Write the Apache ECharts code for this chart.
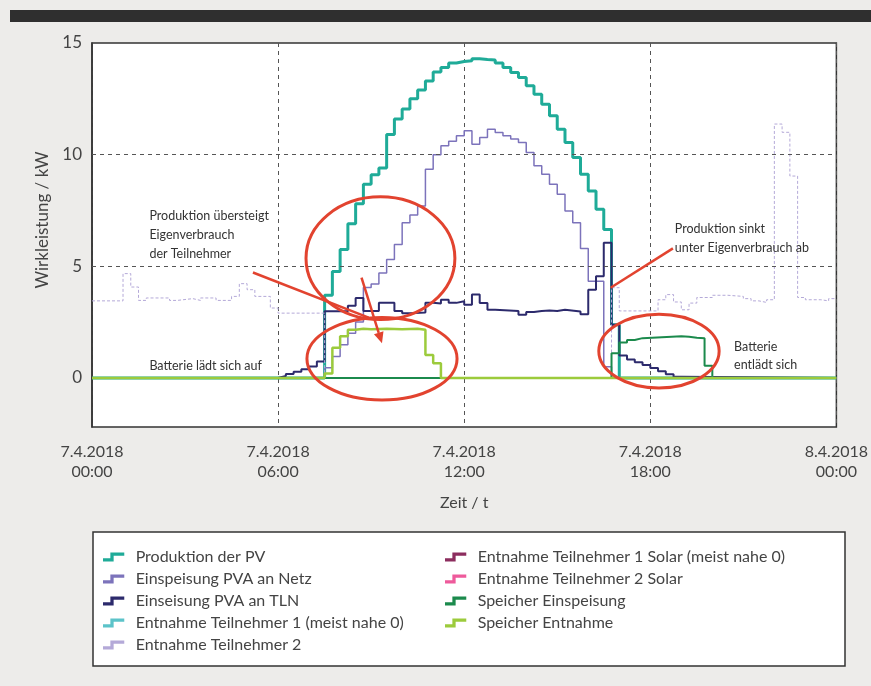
<!DOCTYPE html>
<html>
<head>
<meta charset="utf-8">
<script src="https://cdn.jsdelivr.net/npm/echarts@6/dist/echarts.min.js"></script>
<style>
html,body{margin:0;padding:0;background:#edecea;}
#c{width:871px;height:686px;}
</style>
</head>
<body>
<div id="c"></div>
<script>
// ---------- DATA ----------
const xTickLabels = ['7.4.2018\n00:00','7.4.2018\n06:00','7.4.2018\n12:00','7.4.2018\n18:00','8.4.2018\n00:00'];
const yTickValues = [0, 5, 10, 15];
const yGridValues = [5, 10];
const seriesNames = [
  'Produktion der PV',
  'Einspeisung PVA an Netz',
  'Einseisung PVA an TLN',
  'Entnahme Teilnehmer 1 (meist nahe 0)',
  'Entnahme Teilnehmer 2',
  'Entnahme Teilnehmer 1 Solar (meist nahe 0)',
  'Entnahme Teilnehmer 2 Solar',
  'Speicher Einspeisung',
  'Speicher Entnahme'
];
// [hour, kW] step change points (value holds until next point)
const produktionPV = [[0,0],[7.5,3.7],[7.75,4.77],[8,5.75],[8.25,6.9],[8.5,7.8],[8.75,8.67],[9,9.1],[9.25,9.4],[9.5,10.9],[9.75,11.6],[10,12.04],[10.25,12.5],[10.5,12.9],[10.75,13.3],[11,13.7],[11.25,13.9],[11.5,14.1],[11.75,14.17],[12,14.2],[12.25,14.29],[12.5,14.26],[12.75,14.24],[13,14.1],[13.25,13.9],[13.5,13.68],[13.75,13.46],[14,13.09],[14.25,12.71],[14.5,12.26],[14.75,11.74],[15,11.14],[15.25,10.54],[15.5,9.87],[15.75,9.12],[16,8.37],[16.25,7.55],[16.5,6.65],[16.75,2.38],[17,0],[24,0]];
const einspeisungNetz = [[0,0],[7.5,0.45],[7.75,0.96],[8,1.48],[8.25,2.0],[8.5,2.5],[8.75,4.05],[9,4.2],[9.25,4.7],[9.5,5.3],[9.75,5.97],[10,6.95],[10.25,7.3],[10.5,7.7],[10.75,9.34],[11,10.0],[11.25,10.4],[11.5,10.6],[11.75,10.84],[12,11.07],[12.25,10.47],[12.5,10.77],[12.75,11.14],[13,10.99],[13.25,10.84],[13.5,10.7],[13.75,10.54],[14,10.1],[14.25,9.5],[14.5,9.12],[14.75,8.67],[15,8.22],[15.25,7.47],[15.5,6.95],[15.75,5.8],[16,4.33],[16.25,4.33],[16.5,0.5],[16.75,0],[24,0]];
const einspeisungTLN = [[0,0],[6,0.08],[6.25,0.17],[6.5,0.28],[6.75,0.39],[7,0.51],[7.25,0.73],[7.5,2.98],[8.25,3.23],[8.5,3.58],[8.75,3.0],[9.25,3.36],[9.75,3.0],[10,2.9],[10.25,2.93],[10.75,3.36],[11,3.33],[11.25,3.5],[11.5,3.36],[11.75,3.43],[12,3.28],[12.25,3.73],[12.5,3.35],[12.75,3.05],[13,3.0],[13.75,2.83],[14,2.95],[14.25,3.0],[14.5,3.02],[14.75,3.0],[15,3.05],[15.25,2.97],[15.75,2.85],[16,3.95],[16.25,4.55],[16.5,6.05],[16.75,2.38],[17,1.0],[17.25,0.82],[17.5,0.7],[17.75,0.58],[18,0.44],[18.25,0.3],[18.5,0.16],[18.75,0.05],[19,0],[24,0]];
const entnahmeTN1 = [[0,0],[24,0]];
const entnahmeTN2 = [[0,3.45],[1,4.67],[1.25,4.07],[1.5,3.47],[1.75,3.58],[2.5,3.47],[2.75,3.55],[3.25,3.47],[3.5,3.58],[4,3.47],[4.5,3.65],[4.75,4.22],[5,3.95],[5.25,3.65],[5.75,3.13],[6,2.9],[7.5,0],[16.75,4.04],[17,3.0],[18.25,3.5],[18.5,3.73],[18.75,3.4],[19,3.05],[19.25,3.35],[19.5,3.6],[20,3.7],[20.5,3.65],[21,3.55],[21.25,3.45],[21.5,3.38],[21.75,3.5],[22,11.37],[22.25,11.0],[22.5,9.04],[22.75,3.6],[23,3.5],[23.5,3.45],[23.75,3.55],[24,3.55]];
const entnahmeTN1Solar = [[0,0],[24,0]];
const entnahmeTN2Solar = [[0,0],[24,0]];
const speicherEinspeisung = [[0,0],[16.75,1.1],[17,1.58],[17.25,1.7],[17.5,1.78],[17.75,1.86],[19,1.84],[19.25,1.8],[19.5,1.78],[19.75,0.54],[20,0],[24,0]];
const speicherEntnahme = [[0,0],[7.5,0.2],[7.75,1.35],[8,1.86],[8.25,2.16],[8.5,2.2],[8.75,2.18],[9,2.2],[9.5,2.18],[10,2.2],[10.5,2.16],[10.75,1.03],[11,0.66],[11.25,0],[24,0]];

// ---------- STYLE ----------
const FONT = 'Lato, "Open Sans", sans-serif';
const TXT = '#444';
const seriesData = [produktionPV, einspeisungNetz, einspeisungTLN, entnahmeTN1, entnahmeTN2, entnahmeTN1Solar, entnahmeTN2Solar, speicherEinspeisung, speicherEntnahme];
const seriesStyle = [
  {color:'#1fab98', width:3},
  {color:'#7c73bb', width:1.5},
  {color:'#2c2a6c', width:2},
  {color:'#5cc3c9', width:1},
  {color:'#b4a9d8', width:1, type:[3,2]},
  {color:'#8c2d5e', width:1.5},
  {color:'#ee5a9b', width:1.5},
  {color:'#1b8a4c', width:2},
  {color:'#9ccb3c', width:2.5}
];
const stepIcon = 'path://M0,9 L9,9 L9,2 L26,2 L26,6 L13,6 L13,13 L0,13 Z';

const chart = echarts.init(document.getElementById('c'), null, {renderer:'canvas'});

const series = seriesNames.map((n, i) => ({
  name: n, type: 'line', step: 'end', data: seriesData[i],
  symbol: 'none', showSymbol: false,
  lineStyle: {color: seriesStyle[i].color, width: seriesStyle[i].width, type: seriesStyle[i].type || 'solid'},
  itemStyle: {color: seriesStyle[i].color},
  z: 3, silent: true
}));
series.unshift({
  name: '_grid', type: 'line', data: [], silent: true, z: 1,
  markLine: {silent: true, symbol: ['none','none'], label: {show:false},
    lineStyle: {color:'#555', type:[4,4], width:1},
    data: yGridValues.map(v => ({yAxis: v}))}
});

const legendCommon = {
  orient: 'vertical', icon: stepIcon, itemWidth: 24, itemHeight: 9, itemGap: 4,
  textStyle: {fontFamily: FONT, fontSize: 16, color: TXT, lineHeight: 18, padding:[0,0,0,5]},
  selectedMode: false, z: 5
};

const option = {
  animation: false,
  backgroundColor: '#edecea',
  grid: {left: 92, right: 26, top: 43, bottom: 259, show: true, backgroundColor: '#ffffff', borderColor: '#333', borderWidth: 1.5},
  xAxis: {
    type: 'value', min: 0, max: 24, interval: 6,
    name: 'Zeit / t', nameLocation: 'middle', nameGap: 68,
    nameTextStyle: {fontFamily: FONT, fontSize: 16, color: TXT},
    axisLine: {show: true, lineStyle: {color: '#333', width: 1.5}},
    axisTick: {show: false},
    axisLabel: {margin: 15, fontFamily: FONT, fontSize: 16, color: TXT, lineHeight: 20,
      formatter: v => xTickLabels[Math.round(v / 6)]},
    splitLine: {show: true, lineStyle: {color: '#555', type: [4,4], width: 1}}
  },
  yAxis: {
    type: 'value', min: -2.2, max: 15,
    name: 'Wirkleistung / kW', nameLocation: 'middle', nameGap: 38, nameRotate: 90,
    nameTextStyle: {fontFamily: FONT, fontSize: 17, color: TXT, padding: [0,0,0,30]},
    axisLine: {show: true, lineStyle: {color: '#333', width: 1.5}},
    axisTick: {show: false},
    axisLabel: {customValues: yTickValues, margin: 10, fontFamily: FONT, fontSize: 17, color: TXT},
    splitLine: {show: false}
  },
  legend: [
    Object.assign({}, legendCommon, {left: 98, top: 543, data: seriesNames.slice(0,5)}),
    Object.assign({}, legendCommon, {left: 440, top: 543, data: seriesNames.slice(5)})
  ],
  series: series
};
chart.setOption(option);

// ---------- ANNOTATIONS (in data coordinates) ----------
const RED = '#e2432f';
const annEllipses = [
  {c:[9.3,5.36], r:[2.4,2.75]},
  {c:[9.35,0.86], r:[2.42,1.85]},
  {c:[18.28,1.2], r:[1.94,1.65]}
];
const annLines = [
  [[5.19,4.72],[8.92,2.7]],
  [[18.73,5.8],[16.72,4.04]]
];
const annArrow = [[8.69,4.49],[9.35,1.55]];
const annTexts = [
  {at:[1.85,7.7], text:'Produktion übersteigt\nEigenverbrauch\nder Teilnehmer', lh:19},
  {at:[1.85,0.96], text:'Batterie lädt sich auf', lh:19},
  {at:[18.79,7.1], text:'Produktion sinkt\nunter Eigenverbrauch ab', lh:19},
  {at:[20.7,1.77], text:'Batterie\nentlädt sich', lh:18}
];

const P = (p) => chart.convertToPixel({gridIndex: 0}, p);
const o = P([0,0]);
const pxH = P([1,0])[0] - o[0];
const pxK = o[1] - P([0,1])[1];

const g = [];
g.push({type:'rect', id:'topband', z:0, shape:{x:10, y:10, width:861, height:12}, style:{fill:'#2f2f2f'}});
g.push({type:'rect', id:'legendbox', z:0, shape:{x:93, y:532, width:752, height:134}, style:{fill:'#ffffff', stroke:'#333', lineWidth:1.5}});
annEllipses.forEach((e, i) => {
  const c = P(e.c);
  g.push({type:'ellipse', id:'el'+i, z:50, shape:{cx:c[0], cy:c[1], rx:e.r[0]*pxH, ry:e.r[1]*pxK}, style:{fill:'none', stroke:RED, lineWidth:3}});
});
annLines.forEach((l, i) => {
  const a = P(l[0]), b = P(l[1]);
  g.push({type:'line', id:'ln'+i, z:50, shape:{x1:a[0], y1:a[1], x2:b[0], y2:b[1]}, style:{stroke:RED, lineWidth:2.5}});
});
(function(){
  const a = P(annArrow[0]), b = P(annArrow[1]);
  const dx = b[0]-a[0], dy = b[1]-a[1], L = Math.hypot(dx, dy);
  const ux = dx/L, uy = dy/L, hl = 11, hw = 5;
  const bx = b[0]-ux*hl, by = b[1]-uy*hl;
  g.push({type:'line', id:'arrowline', z:50, shape:{x1:a[0], y1:a[1], x2:bx, y2:by}, style:{stroke:RED, lineWidth:2.5}});
  g.push({type:'polygon', id:'arrowhead', z:50, shape:{points:[[b[0],b[1]],[bx-uy*hw, by+ux*hw],[bx+uy*hw, by-ux*hw]]}, style:{fill:RED}});
})();
annTexts.forEach((t, i) => {
  const p = P(t.at);
  g.push({type:'text', id:'tx'+i, z:60, x:p[0], y:p[1], style:{text:t.text, fill:'#333', font:'12.5px ' + FONT, lineHeight:t.lh, textAlign:'left', textVerticalAlign:'top'}});
});
chart.setOption({graphic: g});
</script>
</body>
</html>
